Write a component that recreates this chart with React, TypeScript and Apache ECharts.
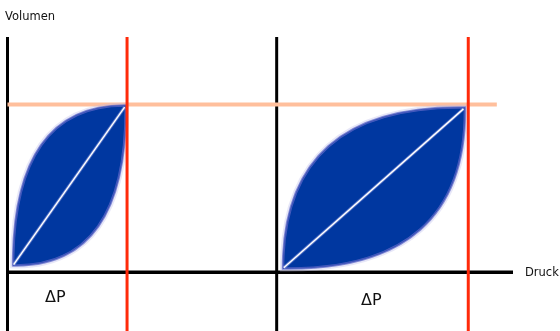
import React, { useEffect, useRef } from "react";
import * as echarts from "echarts";

// Schematic P-V diagram: pressure (x) vs volume (y), arbitrary units
const xAxisRange = [0, 100];
const yAxisRange = [-25, 100];
const volumeAxisPressures = [0, 53.25];
const limitPressures = [23.65, 91.15];
const volumeMax = 71.3;
const volumeMaxLineEnd = 96.8;
const leafTips = [
  [1.1, 2.9],
  [54.5, 1.6],
];
const leafTops = [
  [23.4, 70.9],
  [90.5, 70.0],
];
const leafUpperCtrl = [
  [1.1, 71.3],
  [54.5, 71.3],
];
const leafLowerCtrl = [
  [23.6, 2.0],
  [90.8, 0.5],
];
const axisNames = ["Volumen", "Druck"];
const deltaLabel = "ΔP";

export default function App() {
  const ref = useRef<HTMLDivElement>(null);
  useEffect(() => {
    document.body.style.margin = "0";
    const chart = echarts.init(ref.current!, undefined, { renderer: "svg" });

    const vLines = (xs: number[], color: string, z: number, name: string) =>
      xs.map((x, i) => ({
        type: "line",
        name: name + i,
        data: [
          [x, yAxisRange[0]],
          [x, yAxisRange[1]],
        ],
        symbol: "none",
        clip: false,
        silent: true,
        z,
        lineStyle: { color, width: 3 },
      }));

    const leafData = leafTips.map((t, i) => [
      t[0],
      t[1],
      leafTops[i][0],
      leafTops[i][1],
      leafUpperCtrl[i][0],
      leafUpperCtrl[i][1],
      leafLowerCtrl[i][0],
      leafLowerCtrl[i][1],
    ]);

    const option: any = {
      animation: false,
      grid: { left: 7.5, right: 47, top: 37, height: 296 },
      xAxis: { type: "value", min: xAxisRange[0], max: xAxisRange[1], show: false },
      yAxis: { type: "value", min: yAxisRange[0], max: yAxisRange[1], show: false },
      series: [
        ...vLines(volumeAxisPressures, "#000000", 1, "vaxis"),
        {
          type: "line",
          name: "paxis",
          data: [
            [xAxisRange[0], 0],
            [xAxisRange[1], 0],
          ],
          symbol: "none",
          clip: false,
          silent: true,
          z: 1,
          lineStyle: { color: "#000000", width: 3.5 },
        },
        {
          type: "line",
          name: "vmax",
          data: [
            [xAxisRange[0], volumeMax],
            [volumeMaxLineEnd, volumeMax],
          ],
          symbol: "none",
          clip: false,
          silent: true,
          z: 2,
          lineStyle: { color: "#ffbf9c", width: 4 },
        },
        {
          type: "custom",
          name: "leaf",
          clip: false,
          silent: true,
          z: 3,
          encode: { x: [0, 2, 4, 6], y: [1, 3, 5, 7] },
          data: leafData,
          renderItem: (params: any, api: any) => {
            const p0 = api.coord([api.value(0), api.value(1)]);
            const p1 = api.coord([api.value(2), api.value(3)]);
            const cu = api.coord([api.value(4), api.value(5)]);
            const cl = api.coord([api.value(6), api.value(7)]);
            const d = `M${p0[0]} ${p0[1]} Q${cu[0]} ${cu[1]} ${p1[0]} ${p1[1]} Q${cl[0]} ${cl[1]} ${p0[0]} ${p0[1]} Z`;
            const dx = p1[0] - p0[0];
            const dy = p1[1] - p0[1];
            const len = Math.sqrt(dx * dx + dy * dy);
            const ux = dx / len;
            const uy = dy / len;
            return {
              type: "group",
              children: [
                {
                  type: "path",
                  shape: { pathData: d },
                  style: { fill: "none", stroke: "rgba(185,185,235,0.35)", lineWidth: 6 },
                },
                {
                  type: "path",
                  shape: { pathData: d },
                  style: { fill: "#0037a0", stroke: "rgba(95,105,200,0.75)", lineWidth: 2.5 },
                },
                {
                  type: "path",
                  shape: { pathData: d },
                  style: { fill: "none", stroke: "rgba(30,55,170,0.5)", lineWidth: 0.8 },
                },
                {
                  type: "line",
                  shape: {
                    x1: p0[0] + ux * 1,
                    y1: p0[1] + uy * 1,
                    x2: p1[0] - ux * 2,
                    y2: p1[1] - uy * 2,
                  },
                  style: { stroke: "rgba(150,160,230,0.55)", lineWidth: 3.2 },
                },
                {
                  type: "line",
                  shape: {
                    x1: p0[0] + ux * 1,
                    y1: p0[1] + uy * 1,
                    x2: p1[0] - ux * 2,
                    y2: p1[1] - uy * 2,
                  },
                  style: { stroke: "#ffffff", lineWidth: 1.4 },
                },
              ],
            };
          },
        },
        ...vLines(limitPressures, "#ff2a0a", 4, "limit"),
      ],
      graphic: [
        {
          type: "text",
          left: 5,
          top: 10,
          style: {
            text: axisNames[0],
            fontFamily: "DejaVu Sans",
            fontSize: 11.5,
            fill: "#111",
          },
        },
        {
          type: "text",
          left: 525,
          top: 266,
          style: {
            text: axisNames[1],
            fontFamily: "DejaVu Sans",
            fontSize: 11.5,
            fill: "#111",
          },
        },
        {
          type: "text",
          left: 45,
          top: 288,
          style: {
            text: deltaLabel,
            fontFamily: "DejaVu Sans",
            fontSize: 16,
            fill: "#111",
          },
        },
        {
          type: "text",
          left: 361,
          top: 291,
          style: {
            text: deltaLabel,
            fontFamily: "DejaVu Sans",
            fontSize: 16,
            fill: "#111",
          },
        },
      ],
    };
    chart.setOption(option);
    return () => chart.dispose();
  }, []);
  return (
    <div
      ref={ref}
      style={{ position: "fixed", left: 0, top: 0, width: 560, height: 331 }}
    />
  );
}
